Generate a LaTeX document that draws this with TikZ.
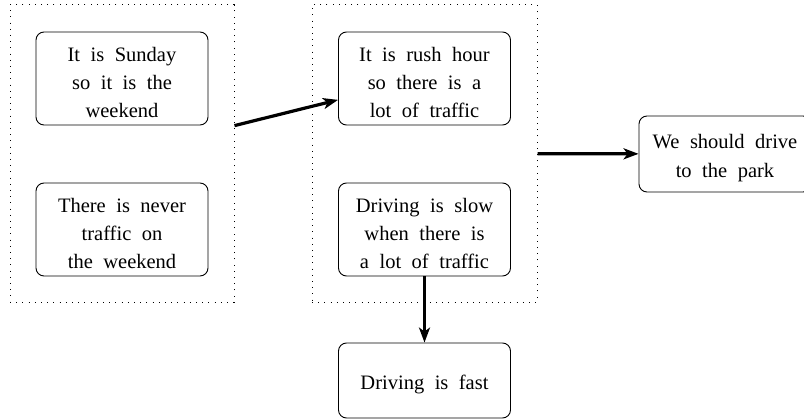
\documentclass[tikz,border=0pt]{standalone}
\usepackage{fontspec}
\setmainfont{Liberation Serif}
\usetikzlibrary{arrows.meta}

\begin{document}
\begin{tikzpicture}[x=1pt,y=-1pt,
  claim/.style={draw, rounded corners=8pt, line width=0.9pt,
    minimum width=172pt, text width=166pt, align=center, inner sep=0pt,
    font=\fontsize{20.5}{28.3}\selectfont,
    execute at begin node={\spaceskip=10.5pt\relax\rule{0pt}{22.5pt}}},
  tall/.style={minimum height=93pt},
  short/.style={minimum height=75pt},
  group/.style={draw, line width=1pt, dash pattern=on 1pt off 5.2pt, inner sep=0pt},
  link/.style={line width=3.2pt, -{Stealth[length=15pt,width=11pt,inset=4pt]}}
]
\useasboundingbox (0,0) rectangle (804,420);
\clip (0,0) rectangle (804,420);

% first argument
\node[claim,tall] (sunday) at (122,78.5) {It is Sunday\\so it is the\\weekend};
\node[claim,tall] (never) at (122,229.5) {There is never\\traffic on\\the weekend};
\node[group, minimum width=224pt, minimum height=297pt] (g1) at (122,153.5) {};

% second argument
\node[claim,tall] (rush) at (424.5,78.5) {It is rush hour\\so there is a\\lot of traffic};
\node[claim,tall] (slow) at (424.5,229.5) {Driving is slow\\when there is\\a lot of traffic};
\node[group, minimum width=225pt, minimum height=297pt] (g2) at (424.5,153.5) {};

% conclusions
\node[claim,short] (fast) at (424.5,380.5) {Driving is fast};
\node[claim,short, minimum height=76pt] (park) at (725,154) {We should drive\\to the park};

% connectors
\draw[link] (g1) -- (rush);
\draw[link] (g2) -- (park);
\draw[link] (slow) -- (fast);
\end{tikzpicture}
\end{document}
